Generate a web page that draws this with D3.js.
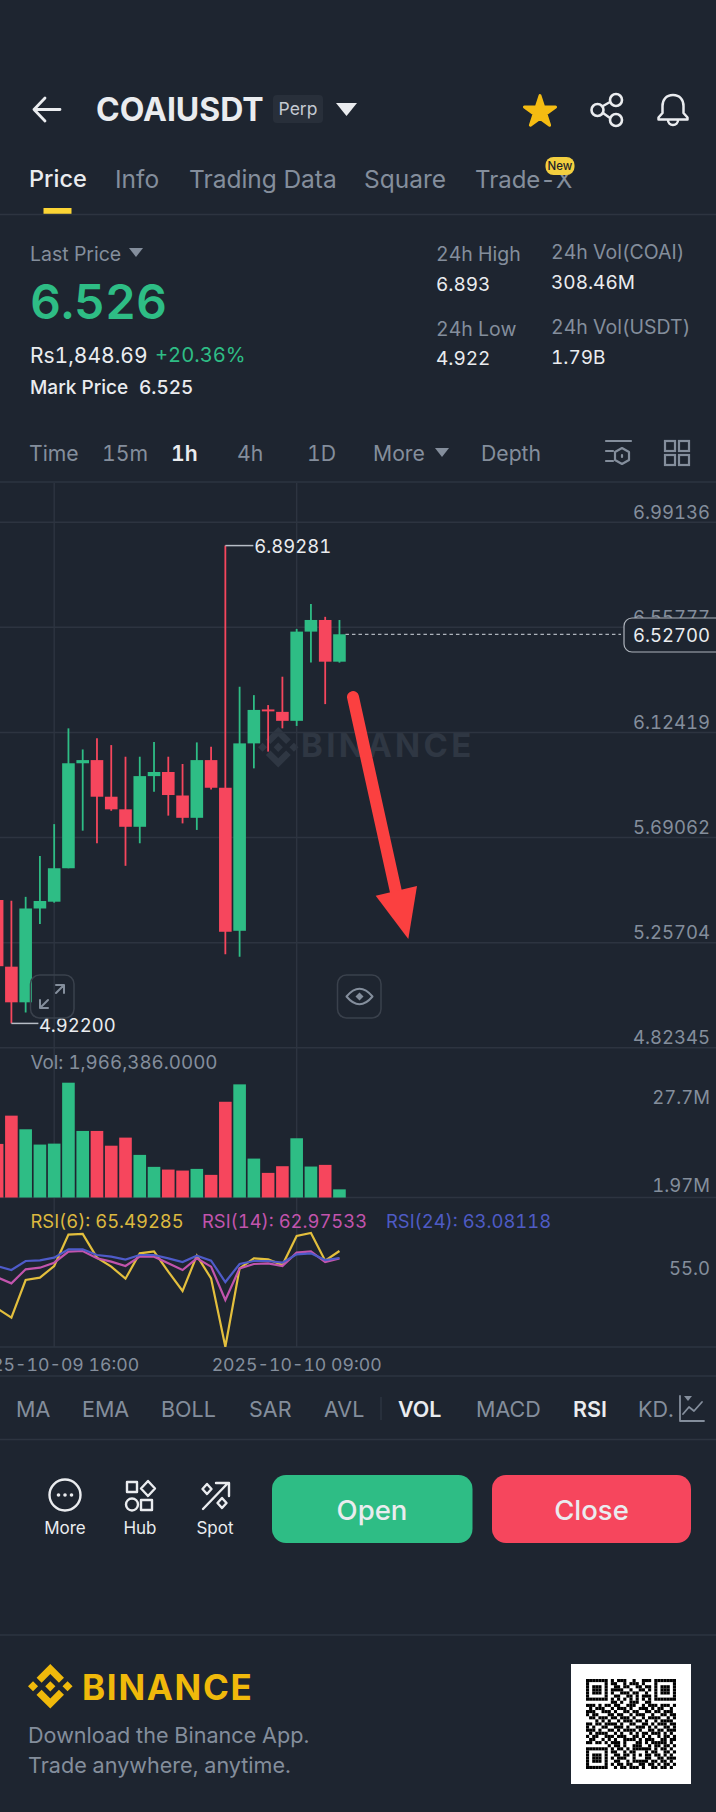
<!DOCTYPE html>
<html lang="en">
<head>
  <meta charset="UTF-8">
  <title>COAIUSDT Perp</title>
  <style>
    html, body { margin: 0; padding: 0; background: #1e2530; }
    svg { display: block; font-family: Inter, "Noto Sans", sans-serif; font-variant-numeric: tabular-nums; font-feature-settings: "tnum"; }
    .grid path.domain { display: none; }
    .grid line { stroke: #2d3440; stroke-width: 1.5; }
    .grid text { fill: #848e9c; font-size: 18.5px; font-family: Inter, sans-serif; }
  </style>
</head>
<body>
  <div id="chart"></div>

  <script src="https://d3js.org/d3.v7.min.js"></script>
  <script>
    // hourly candles
    const times = ["2025-10-09 12:00", "2025-10-09 13:00", "2025-10-09 14:00", "2025-10-09 15:00", "2025-10-09 16:00",
      "2025-10-09 17:00", "2025-10-09 18:00", "2025-10-09 19:00", "2025-10-09 20:00", "2025-10-09 21:00",
      "2025-10-09 22:00", "2025-10-09 23:00", "2025-10-10 00:00", "2025-10-10 01:00", "2025-10-10 02:00",
      "2025-10-10 03:00", "2025-10-10 04:00", "2025-10-10 05:00", "2025-10-10 06:00", "2025-10-10 07:00",
      "2025-10-10 08:00", "2025-10-10 09:00", "2025-10-10 10:00", "2025-10-10 11:00", "2025-10-10 12:00"];
    const opens = [5.431, 5.156, 5.009, 5.396, 5.424, 5.562, 5.995, 6.008, 5.857, 5.805, 5.733, 5.942, 5.959,
      5.862, 5.770, 6.008, 5.894, 5.304, 6.077, 6.217, 6.207, 6.170, 6.538, 6.586, 6.414];
    const highs = [5.472, 5.428, 5.444, 5.612, 5.744, 6.139, 6.052, 6.098, 6.070, 6.022, 6.022, 6.083, 6.022,
      5.992, 6.081, 6.063, 6.89281, 6.311, 6.276, 6.235, 6.352, 6.549, 6.652, 6.599, 6.586];
    const lows = [5.121, 4.922, 4.967, 5.332, 5.420, 5.562, 5.717, 5.665, 5.799, 5.572, 5.665, 5.878, 5.779,
      5.747, 5.720, 5.887, 5.207, 5.197, 5.974, 6.043, 6.139, 6.149, 6.411, 6.239, 6.410];
    const closes = [5.158, 5.009, 5.396, 5.427, 5.562, 5.995, 6.008, 5.857, 5.805, 5.733, 5.942, 5.959, 5.864,
      5.770, 6.008, 5.894, 5.300, 6.077, 6.215, 6.209, 6.170, 6.538, 6.586, 6.414, 6.527];
    const volumes = [12930000, 19750000, 16460000, 12770000, 13000000, 27700000, 16060000, 16060000, 12500000,
      14450000, 10280000, 7390000, 6740000, 6500000, 6900000, 5460000, 23100000, 27300000, 9390000, 5940000,
      7550000, 14290000, 7470000, 7870000, 1966386];
    const rsi6 = [45.77, 42.56, 55.52, 56.32, 60.34, 71.12, 71.35, 63.2, 60.11, 55.98, 64.7, 65.38, 58.39,
      51.73, 63.89, 56.09, 32.58, 59.53, 62.98, 62.63, 60.68, 70.66, 71.69, 62.17, 65.49285];
    const rsi14 = [56.44, 54.37, 59.19, 59.76, 61.48, 65.27, 65.5, 62.98, 61.83, 60.34, 63.55, 63.55, 61.25,
      58.96, 62.98, 60.11, 48.64, 59.53, 61.03, 61.25, 60.34, 64.93, 65.38, 61.71, 62.97533];
    const rsi24 = [60.34, 58.96, 62.06, 62.29, 63.2, 66.07, 66.07, 64.12, 63.55, 62.52, 64.12, 64.12, 62.98,
      61.71, 63.89, 62.17, 54.83, 61.03, 62.06, 62.06, 61.48, 64.35, 64.7, 62.4, 63.08118];

    const priceTicks = [6.99136, 6.55777, 6.12419, 5.69062, 5.25704, 4.82345];
    const volumeTicks = [27700000, 1966386];
    const rsiTicks = [55];
    const timeTicks = ["2025-10-09 16:00", "2025-10-10 09:00"];
    const lastPrice = 6.527;
    const highPrice = 6.89281;
    const lowPrice = 4.922;

    const qrRows = [
      "11111110101110010011101111111", "10000010110010111010001000001", "10111010011011001101101011101",
      "10111010111100100110101011101", "10111010100111011001001011101", "10000010011001101011101000001",
      "11111110101010101010101111111", "00000000110100111001100000000", "11101011011001110010111011101",
      "01011100101110100111010110010", "11100111010011011001101101110", "10110001101100101110010011011",
      "01101110110111010010111100101", "00010101001011101101001011110", "11011011110100110011010111011",
      "10100110011101001110101001101", "11101001101011110100110110111", "01011110010100101011011101010",
      "10110011101110011010100101101", "01100101010011110101110011011", "11011010111010001101011111010",
      "00000001011010011100101101101", "11111110101101011111101011010", "10000010110010110001011001101",
      "10111010011011010101101101010", "10111010101110010001100110111", "10111010011001011111011011010",
      "10000010101101100110110101101", "11111110010110111010011011010"];

    const width = 716, height = 1812;
    const bg = "#1e2530", green = "#2ebd85", red = "#f6465d", gray = "#848e9c", white = "#eaecef", line = "#2d3440";
    const yellow = "#f0b90b";
    const logoPath = "M38.73 53.2l24.59-24.58 24.6 24.6 14.3-14.31L63.32 0 24.43 38.9l14.3 14.3zM0 63.31l14.3-14.31 14.31 14.31-14.31 14.3zM38.73 73.41l24.59 24.59 24.6-24.6 14.31 14.29-38.9 38.91-38.91-38.88v-.03l14.31-14.28zM98.01 63.31l14.3-14.31 14.3 14.3-14.3 14.31zM77.83 63.3L63.32 48.78 52.59 59.51l-1.24 1.23-2.54 2.54 14.51 14.5 14.51-14.47z";

    const svg = d3.select("#chart").append("svg").attr("width", width).attr("height", height);
    svg.append("rect").attr("width", width).attr("height", height).attr("fill", bg);

    function label(x, y, str, size, color, weight, anchor) {
      return svg.append("text")
        .attr("x", x).attr("y", y).attr("dy", "0.36em")
        .attr("font-size", size).attr("fill", color)
        .attr("font-weight", weight || 400)
        .attr("text-anchor", anchor || "start")
        .text(str);
    }
    function hline(y) {
      svg.append("line").attr("x1", 0).attr("x2", width).attr("y1", y).attr("y2", y)
        .attr("stroke", line).attr("stroke-width", 1.5);
    }
    function icon(d, color, w) {
      return svg.append("path").attr("d", d).attr("fill", "none").attr("stroke", color)
        .attr("stroke-width", w || 2.5).attr("stroke-linecap", "round").attr("stroke-linejoin", "round");
    }
    function solid(d, color) {
      return svg.append("path").attr("d", d).attr("fill", color);
    }

    // ---- header ----
    icon("M60 109.5H34M45 98L34 109.5L45 121", white, 2.8);
    label(96, 109, "COAIUSDT", 32, white, 700);
    svg.append("rect").attr("x", 273).attr("y", 95).attr("width", 50).attr("height", 28).attr("rx", 4).attr("fill", "#282f3a");
    label(298, 109, "Perp", 17.5, "#c4c9d1", 400, "middle");
    solid("M336 103H357L346.5 116Z", white);
    svg.append("path").attr("d", d3.symbol(d3.symbolStar, 300)()).attr("transform", "translate(540,112)")
      .attr("fill", "#f5bc12").attr("stroke", "#f5bc12").attr("stroke-width", 3).attr("stroke-linejoin", "round");
    icon("M603 106L610 102M603 113L610 118", white);
    [[597.5, 110], [616, 100], [616, 120]].forEach(c => {
      svg.append("circle").attr("cx", c[0]).attr("cy", c[1]).attr("r", 6).attr("fill", "none").attr("stroke", white).attr("stroke-width", 2.6);
    });
    icon("M673 95c-7 0-10.500 5-10.500 11v7l-4 4.500v2h29v-2l-4-4.500v-7c0-6-3.500-11-10.500-11zM668 120a5 5 0 0 0 10 0", white);

    // ---- tabs ----
    const tabs = [["Price", 29, white, 23.5], ["Info", 115, gray, 24.5], ["Trading Data", 189, gray, 24.5], ["Square", 364, gray, 24.5], ["Trade-X", 475, gray, 24]];
    tabs.forEach(t => label(t[1], 179, t[0], t[3], t[2], t[0] == "Price" ? 500 : 400));
    svg.append("rect").attr("x", 545.5).attr("y", 157).attr("width", 29).attr("height", 18).attr("rx", 8).attr("fill", "#f3cf3f");
    label(560, 166, "New", 11.5, "#1e2329", 500, "middle");
    svg.append("rect").attr("x", 43.500).attr("y", 208).attr("width", 28).attr("height", 6).attr("fill", "#fcd535");
    hline(214.5);

    // ---- price block ----
    label(30, 254, "Last Price", 19.5, gray);
    solid("M129 248H143L136 257Z", gray);
    label(30, 302, "6.526", 48, green, 600);
    label(30, 355, "Rs1,848.69", 21, white);
    label(155, 355, "+20.36%", 20.2, green);
    label(30, 387, "Mark Price", 19, white, 500);
    label(139, 387, "6.525", 19, white, 500);
    label(436, 254, "24h High", 19.5, gray);
    label(436, 284, "6.893", 19, white);
    label(436, 329, "24h Low", 19.5, gray);
    label(436, 358, "4.922", 19, white);
    label(551, 252, "24h Vol(COAI)", 19.5, gray);
    label(551, 282, "308.46M", 19, white);
    label(551, 327, "24h Vol(USDT)", 19.5, gray);
    label(551, 357, "1.79B", 19, white);

    // ---- interval row ----
    const intervals = [["Time", 29], ["15m", 102], ["1h", 171], ["4h", 237], ["1D", 307], ["More", 373], ["Depth", 481]];
    intervals.forEach(t => label(t[1], 453, t[0], 21.2, t[0] == "1h" ? white : gray, t[0] == "1h" ? 600 : 400));
    solid("M435 448H449L442 457Z", gray);
    icon("M606 441H631M606 451H613M606 461H613", gray, 2.2);
    icon("M622 448l7 4v8l-7 4-7-4v-8zM622 455v2", gray, 2.2);
    [[665, 441], [679, 441], [665, 455], [679, 455]].forEach(c => {
      svg.append("rect").attr("x", c[0]).attr("y", c[1]).attr("width", 10).attr("height", 10).attr("fill", "none").attr("stroke", gray).attr("stroke-width", 2.2);
    });
    hline(482);

    // ---- scales ----
    const step = 14.33;
    const x = d3.scaleBand().domain(times).range([-3.67 - step / 2, -3.67 - step / 2 + step * times.length]).padding(0.116);
    const cx = t => x(t) + x.bandwidth() / 2;
    const yPrice = d3.scaleLinear().domain([4.82345, 6.99136]).range([1047.3, 521.7]);
    const yVol = d3.scaleLinear().domain([0, 27700000]).range([1197.5, 1082.7]);
    const yRsi = d3.scaleLinear().domain([32.58, 71.69]).range([1346.7, 1233]);

    // watermark
    solid(logoPath, "#2f3743").attr("transform", "translate(258,727) scale(0.32)");
    label(301, 745, "BINANCE", 33, "#2f3743", 700).attr("letter-spacing", 3.3);

    // ---- grid and axes ----
    svg.append("g").attr("class", "grid").attr("transform", "translate(0,1347)")
      .call(d3.axisBottom(x).tickValues(timeTicks).tickSize(-(1347 - 483)).tickPadding(11))
      .call(g => g.selectAll("text").style("font-size", "17.7px"));
    svg.append("g").attr("class", "grid")
      .call(d3.axisRight(yPrice).tickValues(priceTicks).tickSize(width).tickFormat(d => d.toFixed(5)))
      .call(g => g.selectAll("text").attr("x", 710).attr("y", -9.5).attr("text-anchor", "end"));
    hline(yVol(0));
    hline(1347);

    svg.append("g").attr("class", "grid")
      .call(d3.axisRight(yVol).tickValues(volumeTicks).tickSize(0).tickFormat(d => (d / 1e6).toFixed(d > 1e7 ? 1 : 2) + "M"))
      .call(g => g.selectAll("text").attr("x", 710).attr("y", d => d > 1e7 ? 15 : -3.8).attr("text-anchor", "end"));
    svg.append("g").attr("class", "grid")
      .call(d3.axisRight(yRsi).tickValues(rsiTicks).tickSize(0).tickFormat(d3.format(".1f")))
      .call(g => g.selectAll("text").attr("x", 710).attr("y", -13).attr("text-anchor", "end"));

    // ---- candles ----
    const candleColor = i => closes[i] >= opens[i] ? green : red;
    const candles = svg.append("g").selectAll("g").data(times).join("g");
    candles.append("line")
      .attr("x1", d => cx(d)).attr("x2", d => cx(d))
      .attr("y1", (d, i) => yPrice(highs[i])).attr("y2", (d, i) => yPrice(lows[i]))
      .attr("stroke", (d, i) => candleColor(i)).attr("stroke-width", 1.8);
    candles.append("rect")
      .attr("x", d => x(d)).attr("width", x.bandwidth())
      .attr("y", (d, i) => yPrice(Math.max(opens[i], closes[i])))
      .attr("height", (d, i) => Math.max(1.5, Math.abs(yPrice(opens[i]) - yPrice(closes[i]))))
      .attr("fill", (d, i) => candleColor(i));

    // high / low markers
    const hiX = cx(times[highs.indexOf(highPrice)]), loX = cx(times[lows.indexOf(lowPrice)]);
    svg.append("line").attr("x1", hiX).attr("x2", hiX + 28).attr("y1", yPrice(highPrice)).attr("y2", yPrice(highPrice)).attr("stroke", "#b7bdc6").attr("stroke-width", 1.5);
    label(hiX + 29, yPrice(highPrice) + 1, highPrice.toFixed(5), 18.5, white);
    svg.append("line").attr("x1", loX).attr("x2", loX + 27).attr("y1", yPrice(lowPrice)).attr("y2", yPrice(lowPrice)).attr("stroke", "#b7bdc6").attr("stroke-width", 1.5);
    label(loX + 27.5, yPrice(lowPrice) + 1.5, lowPrice.toFixed(5), 18.5, white);

    // last price line and tag
    svg.append("line").attr("x1", cx(times[times.length - 1]) + 6).attr("x2", 621)
      .attr("y1", yPrice(lastPrice)).attr("y2", yPrice(lastPrice))
      .attr("stroke", "#aeb4bc").attr("stroke-width", 1.3).attr("stroke-dasharray", "3.5 3");
    svg.append("rect").attr("x", 624).attr("y", 618).attr("width", 100).attr("height", 34).attr("rx", 8)
      .attr("fill", bg).attr("stroke", "#aeb4bc").attr("stroke-width", 1.2);
    label(710, 635.5, lastPrice.toFixed(5), 18.5, white, 400, "end");

    // buttons on the chart
    [[30.5, 975], [337.5, 975]].forEach(c => {
      svg.append("rect").attr("x", c[0]).attr("y", c[1]).attr("width", 43.500).attr("height", 43).attr("rx", 9)
        .attr("fill", "none").attr("stroke", "#3a414c").attr("stroke-width", 1.5);
    });
    icon("M40 1008L48 1000M40 1000V1008H48M56 993L64 985M56 985H64V993", gray, 2);
    icon("M346.500 996.500Q359.500 981 372.500 996.500Q359.500 1012 346.500 996.500Z", gray, 2);
    solid("M359.500 992.500l4 4-4 4-4-4z", gray);

    // ---- volume ----
    label(30.5, 1062.5, "Vol: 1,966,386.0000", 18.8, gray);
    svg.append("g").selectAll("rect").data(times).join("rect")
      .attr("x", d => x(d)).attr("width", x.bandwidth())
      .attr("y", (d, i) => yVol(volumes[i]))
      .attr("height", (d, i) => yVol(0) - yVol(volumes[i]))
      .attr("fill", (d, i) => candleColor(i));

    // ---- rsi ----
    label(30.5, 1221.5, "RSI(6): 65.49285", 18.4, "#dcb93f");
    label(202, 1221.5, "RSI(14): 62.97533", 18.4, "#c254ad");
    label(386, 1221.5, "RSI(24): 63.08118", 18.4, "#4e5bc4");
    const rsiLine = d3.line().x((d, i) => cx(times[i])).y(d => yRsi(d));
    [[rsi6, "#e3bf3d"], [rsi14, "#c254ad"], [rsi24, "#4e5bc9"]].forEach(s => {
      svg.append("path").datum(s[0]).attr("d", rsiLine).attr("fill", "none").attr("stroke", s[1]).attr("stroke-width", 2.2);
    });

    // ---- indicator row ----
    hline(1376);
    const indicators = [["MA", 16], ["EMA", 82], ["BOLL", 161], ["SAR", 249], ["AVL", 324], ["VOL", 398], ["MACD", 476], ["RSI", 573], ["KD.", 638]];
    indicators.forEach(t => {
      const on = t[0] == "VOL" || t[0] == "RSI";
      label(t[1], 1409, t[0], 21.5, on ? white : gray, on ? 600 : 400);
    });
    svg.append("line").attr("x1", 381).attr("x2", 381).attr("y1", 1397).attr("y2", 1420).attr("stroke", line).attr("stroke-width", 1.5);
    icon("M680 1396V1421H704M683 1414L689 1407L694 1411L702 1402", gray, 1.8);
    solid("M684 1396H692L688 1401Z", gray);
    hline(1439.5);

    // ---- bottom actions ----
    svg.append("circle").attr("cx", 65).attr("cy", 1495).attr("r", 15.5).attr("fill", "none").attr("stroke", white).attr("stroke-width", 2.4);
    [58.5, 65, 71.5].forEach(c => svg.append("circle").attr("cx", c).attr("cy", 1495).attr("r", 1.8).attr("fill", white));
    icon("M127 1482h10v10h-10zM148 1481l7 7.500-7 7.500-7-7.500zM141 1500h11v10h-11z", white, 2.4);
    svg.append("circle").attr("cx", 132).attr("cy", 1504.500).attr("r", 6).attr("fill", "none").attr("stroke", white).attr("stroke-width", 2.4);
    icon("M203 1509L228 1483M216 1483H229V1496M207 1484l4.500 5-4.500 5-4.500-5zM222 1498l4.500 5-4.500 5-4.500-5z", white, 2.4);
    label(65, 1528, "More", 17, white, 400, "middle");
    label(140, 1528, "Hub", 17, white, 400, "middle");
    label(215, 1528, "Spot", 17, white, 400, "middle");
    svg.append("rect").attr("x", 272).attr("y", 1475).attr("width", 200.5).attr("height", 68).attr("rx", 14).attr("fill", green);
    svg.append("rect").attr("x", 492).attr("y", 1475).attr("width", 199).attr("height", 68).attr("rx", 14).attr("fill", red);
    label(372, 1510.5, "Open", 27.5, white, 500, "middle");
    label(591.5, 1510.5, "Close", 27.5, white, 500, "middle");

    // ---- footer ----
    hline(1635);
    solid(logoPath, yellow).attr("transform", "translate(28,1664) scale(0.352)");
    label(82, 1687, "BINANCE", 35, yellow, 700).attr("letter-spacing", 1.7);
    label(28, 1735, "Download the Binance App.", 21.6, gray);
    label(28, 1765, "Trade anywhere, anytime.", 21.6, gray);
    svg.append("rect").attr("x", 571).attr("y", 1664).attr("width", 120).attr("height", 120).attr("fill", "#fff");
    const qrX = d3.scaleBand().domain(d3.range(29)).range([586, 676]);
    const qrY = d3.scaleBand().domain(d3.range(29)).range([1679, 1769]);
    qrRows.forEach((row, r) => {
      svg.append("g").selectAll("rect").data(row.split("").map((v, c) => [v, c]).filter(d => d[0] == "1")).join("rect")
        .attr("x", d => qrX(d[1])).attr("y", qrY(r)).attr("width", qrX.bandwidth()).attr("height", qrY.bandwidth()).attr("fill", "#000");
    });

    // red arrow drawn on the screenshot
    icon("M353 697L396 892", "#fb4040", 12);
    solid("M375.700 895.700L417 886L408.300 939Z", "#fb4040");
  </script>
</body>
</html>
